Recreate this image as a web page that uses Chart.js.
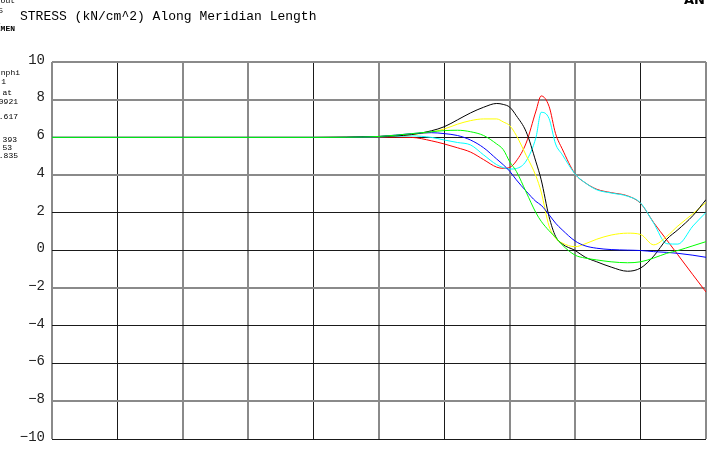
<!DOCTYPE html>
<html>
<head>
<meta charset="utf-8">
<script src="https://cdn.jsdelivr.net/npm/chart.js@4.4.1/dist/chart.umd.min.js"></script>
<style>
  html, body { margin: 0; padding: 0; background: #fff; }
  #wrap { width: 709px; height: 450px; }
</style>
</head>
<body>
<div id="wrap"><canvas id="stressChart" width="709" height="450"></canvas></div>
<script>
// positions along the meridian (one grid division = 1)
const positions = [0, 2, 4, 5, 5.5, 5.8, 6, 6.2, 6.4, 6.6, 6.8, 6.9, 7, 7.1, 7.25, 7.4, 7.48, 7.6, 7.7, 7.8, 8, 8.15, 8.33, 8.55, 8.8, 9, 9.2, 9.4, 9.57, 9.8, 10];

// stress values (kN/cm^2), one list per curve
const redValues    = [6.0, 6.0, 6.0, 6.02, 6.0, 5.82, 5.65, 5.45, 5.22, 4.82, 4.42, 4.36, 4.41, 4.75, 5.7, 7.4, 8.2, 7.65, 6.2, 5.4, 4.05, 3.6, 3.25, 3.07, 2.9, 2.5, 1.48, 0.56, -0.23, -1.29, -2.2];
const cyanValues   = [6.0, 6.0, 6.0, 6.03, 6.08, 6.0, 5.86, 5.73, 5.6, 5.07, 4.55, 4.4, 4.32, 4.35, 4.75, 6.0, 7.33, 7.0, 5.65, 5.1, 4.05, 3.6, 3.22, 3.05, 2.88, 2.52, 1.45, 0.36, 0.34, 1.3, 2.02];
const yellowValues = [6.0, 6.0, 6.0, 6.05, 6.15, 6.28, 6.45, 6.7, 6.89, 6.98, 6.98, 6.82, 6.62, 6.1, 5.05, 3.95, 3.1, 1.3, 0.65, 0.4, 0.2, 0.35, 0.6, 0.82, 0.92, 0.85, 0.3, 0.75, 1.3, 1.95, 2.55];
const blackValues  = [6.0, 6.0, 6.0, 6.05, 6.15, 6.35, 6.57, 6.93, 7.3, 7.6, 7.8, 7.75, 7.6, 7.15, 6.3, 4.7, 3.75, 1.8, 0.75, 0.35, 0.0, -0.35, -0.6, -0.88, -1.1, -0.93, -0.3, 0.6, 1.1, 1.85, 2.7];
const greenValues  = [6.0, 6.0, 6.0, 6.05, 6.2, 6.3, 6.36, 6.38, 6.3, 6.1, 5.65, 5.35, 4.7, 4.2, 3.1, 2.0, 1.55, 1.05, 0.7, 0.3, -0.25, -0.4, -0.5, -0.6, -0.65, -0.6, -0.4, -0.15, 0.0, 0.25, 0.47];
const blueValues   = [6.0, 6.0, 6.0, 6.05, 6.2, 6.25, 6.2, 6.1, 5.86, 5.45, 4.85, 4.55, 4.2, 3.75, 3.15, 2.6, 2.4, 1.9, 1.45, 1.1, 0.5, 0.25, 0.12, 0.05, 0.02, 0.0, -0.06, -0.1, -0.15, -0.25, -0.36];

// axis ticks
const yTicks = [10, 8, 6, 4, 2, 0, -2, -4, -6, -8, -10];
const xDivisions = [0, 1, 2, 3, 4, 5, 6, 7, 8, 9, 10];

const titleText = 'STRESS (kN/cm^2) Along Meridian Length';
// clipped legend text along the left edge: [text, right x, baseline y, bold]
const sideTexts = [
    ['eout', 15, 3, false], ['5', 3, 13, false], ['.', 2, 24, false], ['EMEN', 15, 31, true],
    ['nphi', 20, 75, false], ['1', 6, 84, false], ['at', 12, 95, false], ['.0921', 18, 104, false],
    ['.617', 18, 119, false], ['393', 17, 142, false], ['53', 12, 150, false], ['.835', 18, 158, false]
];

// which grid lines come out dark (the others are soft grey, 2px)
const darkX = [1, 4, 6, 9];
const darkY = [6, 2, 0, -4, -6, -10];

function pts(values) {
    return values.map(function(v, i) { return { x: positions[i], y: v }; });
}

function curve(label, values, color) {
    return {
        label: label,
        data: pts(values),
        borderColor: color,
        borderWidth: 1,
        pointRadius: 0,
        fill: false,
        cubicInterpolationMode: 'monotone'
    };
}

const textPlugin = {
    id: 'ansysText',
    afterDraw: function(chart) {
        const c = chart.ctx;
        c.save();
        c.fillStyle = '#000';
        c.textBaseline = 'middle';
        c.textAlign = 'left';
        c.font = '13px "Liberation Mono"';
        c.fillText(titleText, 20, 17);

        c.textBaseline = 'alphabetic';
        c.textAlign = 'right';
        sideTexts.forEach(function(t) {
            c.font = (t[3] ? 'bold ' : '') + '8px "Liberation Mono"';
            c.fillText(t[0], t[1], t[2]);
        });

        // bottom of the logo, cut off at the top edge
        c.font = 'bold 13px "DejaVu Sans"';
        c.fillText('AN', 705, 4);
        c.restore();
    }
};

const ctx = document.getElementById('stressChart').getContext('2d');
new Chart(ctx, {
    type: 'line',
    data: {
        datasets: [
            curve('green', greenValues, '#00ff00'),
            curve('blue', blueValues, '#0000ff'),
            curve('black', blackValues, '#000000'),
            curve('yellow', yellowValues, '#ffff00'),
            curve('cyan', cyanValues, '#00ffff'),
            curve('red', redValues, '#ff0000')
        ]
    },
    options: {
        responsive: false,
        animation: false,
        layout: { padding: { top: 62, right: 3, bottom: 11, left: 0 } },
        plugins: {
            legend: { display: false },
            tooltip: { enabled: false }
        },
        scales: {
            x: {
                type: 'linear',
                min: 0,
                max: 10,
                afterBuildTicks: function(scale) {
                    scale.ticks = xDivisions.map(function(v) { return { value: v }; });
                },
                afterFit: function(scale) {
                    scale.height = 0;
                    scale.paddingLeft = 0;
                    scale.paddingRight = 0;
                },
                ticks: { display: false },
                border: { display: false },
                grid: {
                    drawTicks: false,
                    color: function(c) { return darkX.includes(c.tick.value) ? '#1a1a1a' : '#8a8a8a'; },
                    lineWidth: function(c) { return darkX.includes(c.tick.value) ? 1 : 2; }
                }
            },
            y: {
                min: -10,
                max: 10,
                afterBuildTicks: function(scale) {
                    scale.ticks = yTicks.map(function(v) { return { value: v }; });
                },
                afterFit: function(scale) {
                    scale.width = 52;
                    scale.paddingTop = 0;
                    scale.paddingBottom = 0;
                },
                border: { display: false },
                ticks: {
                    padding: 7,
                    labelOffset: -2,
                    color: '#222',
                    font: { family: '"Liberation Mono"', size: 14 },
                    callback: function(v) { return String(v).replace('-', '\u2212'); }
                },
                grid: {
                    drawTicks: false,
                    color: function(c) { return darkY.includes(c.tick.value) ? '#1a1a1a' : '#8a8a8a'; },
                    lineWidth: function(c) { return darkY.includes(c.tick.value) ? 1 : 2; }
                }
            }
        }
    },
    plugins: [textPlugin]
});
</script>
</body>
</html>
